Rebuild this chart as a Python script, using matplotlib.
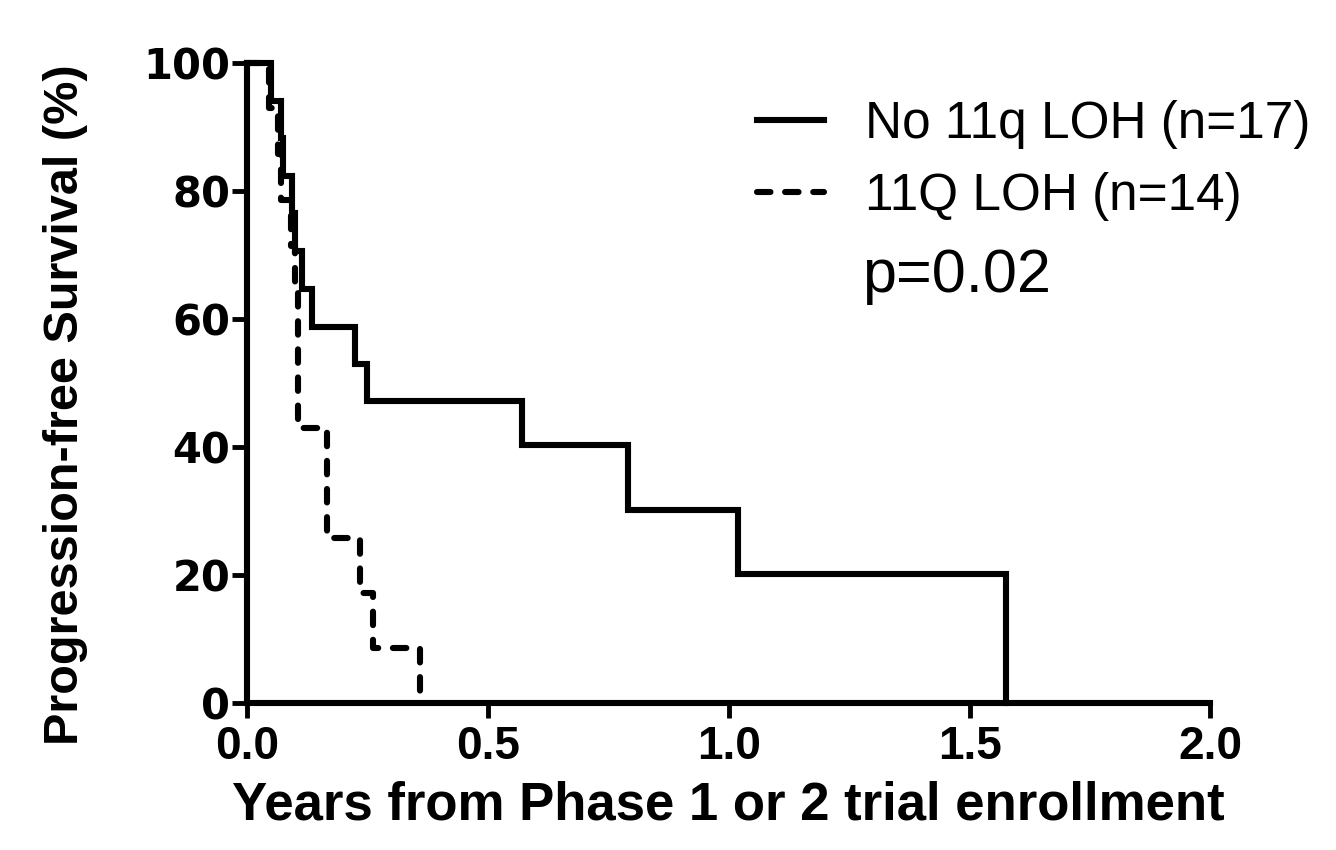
import matplotlib
matplotlib.use("Agg")
import matplotlib.pyplot as plt

# Kaplan-Meier step data
no_loh_years = [0, 0.05, 0.07, 0.075, 0.093, 0.10, 0.114, 0.135, 0.224, 0.249, 0.571, 0.79, 1.02, 1.575]
no_loh_pfs = [100, 94.1, 88.2, 82.4, 76.5, 70.6, 64.7, 58.8, 52.9, 47.1, 40.3, 30.2, 20.2, 0]

loh_years = [0, 0.045, 0.065, 0.07, 0.09, 0.10, 0.105, 0.166, 0.234, 0.261, 0.359]
loh_pfs = [100, 92.9, 85.7, 78.6, 71.4, 64.3, 42.9, 25.7, 17.2, 8.6, 0]

labels = ["No 11q LOH (n=17)", "11Q LOH (n=14)"]
p_text = "p=0.02"
x_ticks = [0.0, 0.5, 1.0, 1.5, 2.0]
y_ticks = [0, 20, 40, 60, 80, 100]

LW = 4.4
fig = plt.figure(figsize=(13.36, 8.5), dpi=100)
ax = fig.add_axes([0.185, 0.173, 0.721, 0.753])

ax.step(no_loh_years, no_loh_pfs, where="post", color="black", lw=LW,
        solid_joinstyle="miter", label=labels[0], clip_on=False, zorder=3)
ax.step(loh_years, loh_pfs, where="post", color="black", lw=LW,
        linestyle=(0, (2.2, 2.4)), dash_capstyle="round", label=labels[1],
        clip_on=False, zorder=3)

ax.set_xlim(0, 2.0)
ax.set_ylim(0, 100)
ax.spines["top"].set_visible(False)
ax.spines["right"].set_visible(False)
for s in ("left", "bottom"):
    ax.spines[s].set_linewidth(LW)

ax.set_xticks(x_ticks)
ax.set_xticklabels([f"{v:.1f}" for v in x_ticks], family="Liberation Sans",
                   fontweight="bold", fontsize=33)
ax.set_yticks(y_ticks)
ax.set_yticklabels([str(v) for v in y_ticks], family="DejaVu Sans",
                   fontweight="bold", fontsize=30)
ax.tick_params(axis="both", direction="out", length=11, width=3.5, pad=5)
ax.tick_params(axis="y", pad=1)

ax.set_xlabel("Years from Phase 1 or 2 trial enrollment", family="Liberation Sans",
              fontweight="bold", fontsize=38, labelpad=8)
ax.set_ylabel("Progression-free Survival (%)", family="Liberation Sans",
              fontweight="bold", fontsize=35)
ax.yaxis.set_label_coords(-0.165, 0.466)

leg = ax.legend(loc="upper left", bbox_to_anchor=(0.481, 1.014), frameon=False,
                prop={"family": "Liberation Sans", "size": 37},
                handlelength=1.3, handletextpad=0.8, labelspacing=0.45)
for line in leg.get_lines():
    line.set_linewidth(LW)

ax.text(0.638, 0.667, p_text, transform=ax.transAxes, family="Liberation Sans",
        fontsize=44, ha="left", va="center")

fig.savefig("out.png", dpi=100, facecolor="white")
